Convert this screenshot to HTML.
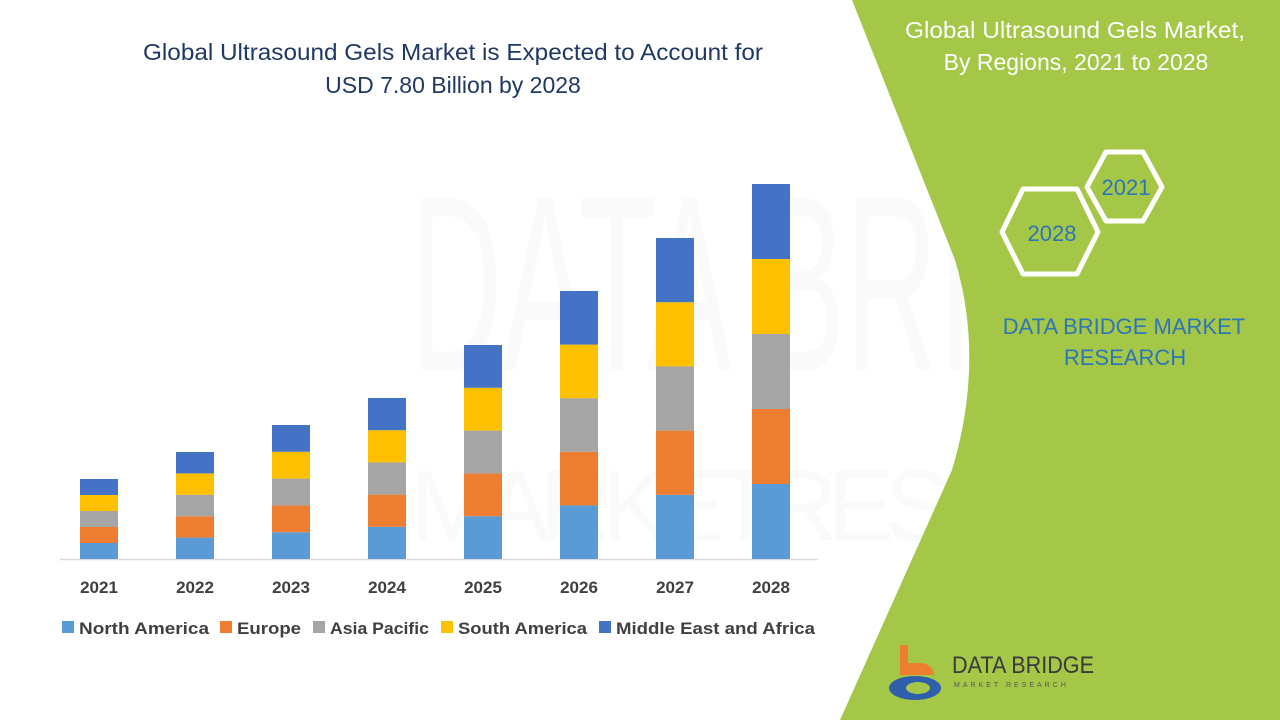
<!DOCTYPE html>
<html><head><meta charset="utf-8"><style>
body{margin:0;width:1280px;height:720px;overflow:hidden;background:#fff;font-family:"Liberation Sans",sans-serif;}
svg text{font-family:"Liberation Sans",sans-serif;}
</style></head><body>
<svg width="1280" height="720" viewBox="0 0 1280 720">
<rect width="1280" height="720" fill="#fff"/>
<g opacity="0.035" fill="#888">
<text x="410" y="370" font-size="250" textLength="840" lengthAdjust="spacingAndGlyphs">DATA BRIDGE</text>
<text x="410" y="540" font-size="100" textLength="840" lengthAdjust="spacing">MARKETRESEARCH</text>
</g>
<path d="M852,0 L1280,0 L1280,720 L840,720 L952,470 Q985,360 955,260 Z" fill="#a4c748"/>
<text x="453" y="60" font-size="23" fill="#1f3864" text-anchor="middle" textLength="620" lengthAdjust="spacingAndGlyphs">Global Ultrasound Gels Market is Expected to Account for</text>
<text x="453" y="93" font-size="23" fill="#1f3864" text-anchor="middle">USD 7.80 Billion by 2028</text>
<line x1="60" y1="559.5" x2="818" y2="559.5" stroke="#d9d9d9" stroke-width="1.5"/>
<g id="bars"></g>
<g font-size="17" font-weight="bold" fill="#404040" text-anchor="middle">
<text x="99" y="593">2021</text><text x="195" y="593">2022</text><text x="291" y="593">2023</text><text x="387" y="593">2024</text><text x="483" y="593">2025</text><text x="579" y="593">2026</text><text x="675" y="593">2027</text><text x="771" y="593">2028</text>
</g>
<g font-size="17" font-weight="bold" fill="#404040">
<rect x="62" y="621" width="12" height="12" fill="#5b9bd5"/><text x="79" y="634" textLength="130" lengthAdjust="spacingAndGlyphs">North America</text>
<rect x="220" y="621" width="12" height="12" fill="#ed7d31"/><text x="237" y="634" textLength="64" lengthAdjust="spacingAndGlyphs">Europe</text>
<rect x="313" y="621" width="12" height="12" fill="#a5a5a5"/><text x="330" y="634" textLength="99" lengthAdjust="spacingAndGlyphs">Asia Pacific</text>
<rect x="441" y="621" width="12" height="12" fill="#ffc000"/><text x="458" y="634" textLength="129" lengthAdjust="spacingAndGlyphs">South America</text>
<rect x="599" y="621" width="12" height="12" fill="#4472c4"/><text x="616" y="634" textLength="199" lengthAdjust="spacingAndGlyphs">Middle East and Africa</text>
</g>
<g fill="#fff" font-size="23" text-anchor="middle">
<text x="1075" y="38" textLength="340" lengthAdjust="spacingAndGlyphs">Global Ultrasound Gels Market,</text>
<text x="1076" y="70">By Regions, 2021 to 2028</text>
</g>
<polygon points="1087,187 1106,152 1143,152 1162,187 1143,221 1106,221" fill="none" stroke="#fff" stroke-width="5" stroke-linejoin="round"/>
<polygon points="1002,232 1023,189 1077,189 1098,232 1077,274 1023,274" fill="none" stroke="#fff" stroke-width="5" stroke-linejoin="round"/>
<text x="1126" y="195" font-size="22" fill="#2e75b6" text-anchor="middle">2021</text>
<text x="1052" y="241" font-size="22" fill="#2e75b6" text-anchor="middle">2028</text>
<text x="1124" y="334" font-size="22" fill="#2e75b6" text-anchor="middle">DATA BRIDGE MARKET</text>
<text x="1125" y="365" font-size="22" fill="#2e75b6" text-anchor="middle">RESEARCH</text>
<path d="M900,645 h8 v18 h12 a14,12 0 0 1 14,12 h-34 Z" fill="#ed7d31"/>
<ellipse cx="915" cy="688" rx="26" ry="12" fill="#2e5fa8"/>
<ellipse cx="918" cy="688" rx="12" ry="6" fill="#a4c748"/>
<text x="952" y="673" font-size="24" fill="#3a3a3a" textLength="142" lengthAdjust="spacingAndGlyphs">DATA BRIDGE</text>
<text x="954" y="687" font-size="7" fill="#555" letter-spacing="3">MARKET RESEARCH</text>
</svg>
<script>
var data=[[80,479,559],[176,452,559],[272,425,559],[368,398,559],[464,345,559],[560,291,559],[656,238,559],[752,184,559]];
var cols=["#5b9bd5","#ed7d31","#a5a5a5","#ffc000","#4472c4"];
var g=document.getElementById("bars"),s="";
data.forEach(function(d){var h=(d[2]-d[1])/5;for(var i=0;i<5;i++){var y=d[2]-h*(i+1);s+='<rect x="'+d[0]+'" y="'+y+'" width="38" height="'+h+'" fill="'+cols[i]+'"/>';}});
g.innerHTML=s;
</script>
</body></html>
